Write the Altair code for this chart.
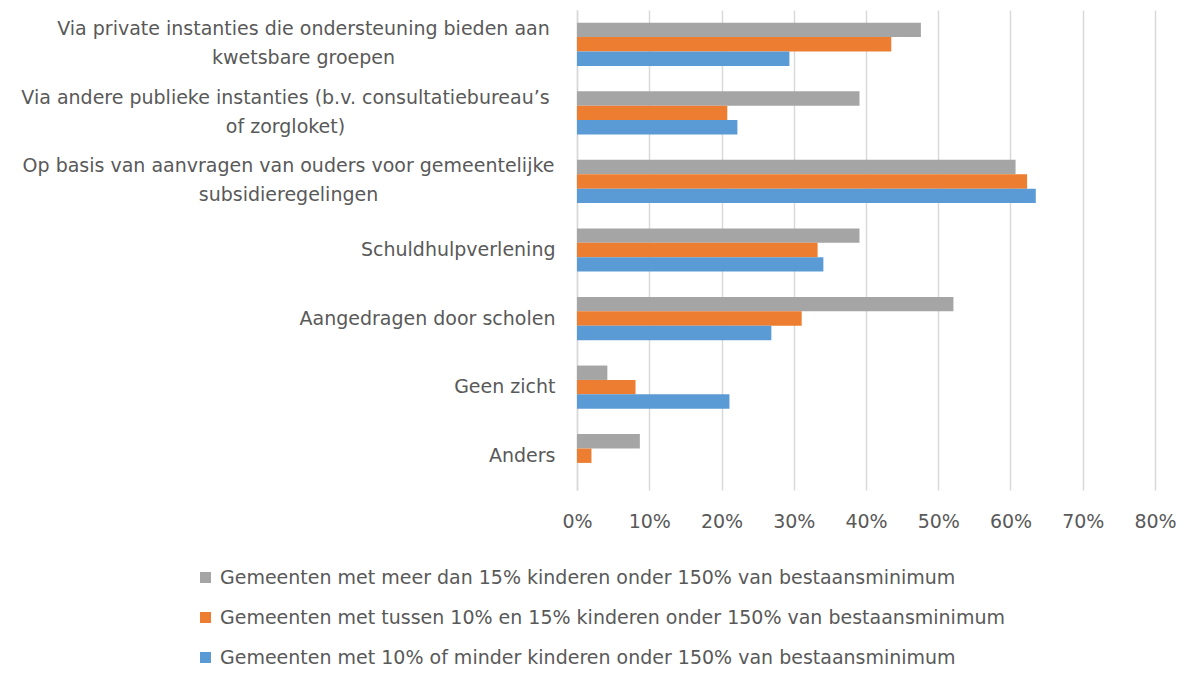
import json
import altair as alt
import pandas as pd

categories = [
    "Via private instanties die ondersteuning bieden aan|kwetsbare groepen",
    "Via andere publieke instanties (b.v. consultatiebureau’s|of zorgloket)",
    "Op basis van aanvragen van ouders voor gemeentelijke|subsidieregelingen",
    "Schuldhulpverlening",
    "Aangedragen door scholen",
    "Geen zicht",
    "Anders",
]
series = [
    "Gemeenten met meer dan 15% kinderen onder 150% van bestaansminimum",
    "Gemeenten met tussen 10% en 15% kinderen onder 150% van bestaansminimum",
    "Gemeenten met 10% of minder kinderen onder 150% van bestaansminimum",
]
meer_dan_15 = [0.476, 0.391, 0.607, 0.391, 0.521, 0.042, 0.087]
tussen_10_15 = [0.435, 0.208, 0.623, 0.333, 0.311, 0.081, 0.020]
tot_10 = [0.294, 0.222, 0.635, 0.341, 0.269, 0.211, 0.0]
colors = ["#A5A5A5", "#ED7D31", "#5B9BD5"]
x_ticks = [0, 0.1, 0.2, 0.3, 0.4, 0.5, 0.6, 0.7, 0.8]

rows = []
for s, vals in zip(series, [meer_dan_15, tussen_10_15, tot_10]):
    for c, v in zip(categories, vals):
        rows.append({"categorie": c, "groep": s, "waarde": v})
df = pd.DataFrame(rows)

FONT = "DejaVu Sans"
FS = 19
TXT = "#595959"

# multi-line labels: lines centred on each other (label style)
multi_pad = [274, 292, 289]
multi = [c for c in categories if "|" in c]
pad_conditions = [
    {"test": f"datum.value === {json.dumps(c)}", "value": p}
    for c, p in zip(multi, multi_pad)
]
is_multi = "indexof(datum.value, '|') >= 0"

chart = alt.Chart(df).mark_bar().encode(
    y=alt.Y(
        "categorie:N",
        sort=categories,
        title=None,
        scale=alt.Scale(paddingInner=0.37, paddingOuter=0.185),
        axis=alt.Axis(
            labelExpr="split(datum.label, '|')",
            labelFont=FONT,
            labelFontSize=FS,
            labelColor=TXT,
            labelLineHeight=29,
            labelPadding={"condition": pad_conditions, "value": 22},
            labelAlign={"condition": {"test": is_multi, "value": "center"}, "value": "right"},
            labelLimit=700,
            labelOffset={"condition": {"test": is_multi, "value": -15}, "value": 0},
            ticks=False,
            domain=True,
            domainColor="#D9D9D9",
            domainWidth=1.5,
            grid=False,
        ),
    ),
    yOffset=alt.YOffset("groep:N", sort=series),
    x=alt.X(
        "waarde:Q",
        title=None,
        scale=alt.Scale(domain=[0, 0.8], nice=False),
        axis=alt.Axis(
            values=x_ticks,
            format=".0%",
            labelFont=FONT,
            labelFontSize=FS,
            labelColor=TXT,
            labelPadding=22,
            labelFlush=False,
            ticks=False,
            domain=False,
            grid=True,
            gridColor="#D9D9D9",
            gridWidth=1.5,
        ),
    ),
    color=alt.Color(
        "groep:N",
        sort=series,
        scale=alt.Scale(domain=series, range=colors),
        legend=alt.Legend(
            title=None,
            orient="none",
            legendX=-381,
            legendY=558,
            direction="vertical",
            symbolType="square",
            symbolSize=121,
            symbolStrokeWidth=0,
            labelFont=FONT,
            labelFontSize=FS,
            labelColor=TXT,
            labelLimit=1000,
            rowPadding=20,
            labelOffset=5,
        ),
    ),
).properties(
    width=578,
    height=480,
    autosize=alt.AutoSizeParams(type="none"),
    padding={"left": 569, "top": 2, "right": 21, "bottom": 179},
).configure_view(stroke=None)

chart.save("out.html", embed_options={"renderer": "svg", "actions": False})
